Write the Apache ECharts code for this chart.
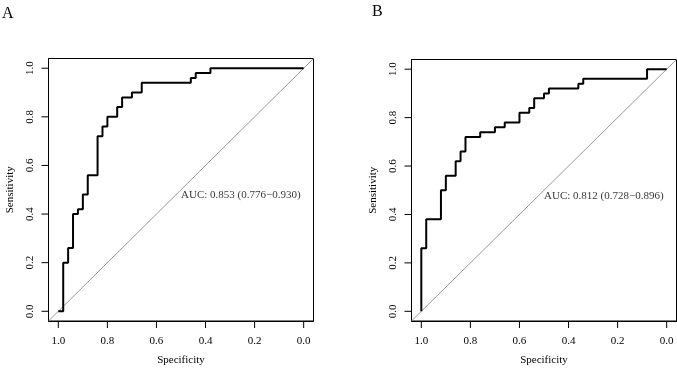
<!DOCTYPE html>
<html>
<head>
<meta charset="utf-8">
<script src="https://cdn.jsdelivr.net/npm/echarts@6/dist/echarts.min.js"></script>
<style>html,body{margin:0;padding:0;background:#fff}#c{width:677px;height:371px}</style>
</head>
<body>
<div id="c"></div>
<script>
// Panel A ROC corner points (specificity, sensitivity)
const specA = [1.00, 0.98, 0.96, 0.94, 0.92, 0.90, 0.88, 0.84, 0.82, 0.80, 0.76, 0.74, 0.70, 0.66, 0.46, 0.44, 0.38, 0.00];
const sensA = [0.00, 0.20, 0.26, 0.40, 0.42, 0.48, 0.56, 0.72, 0.76, 0.80, 0.84, 0.88, 0.90, 0.94, 0.96, 0.98, 1.00, 1.00];
// Panel B ROC corner points
const specB = [1.00, 1.00, 0.98, 0.92, 0.90, 0.86, 0.84, 0.82, 0.76, 0.70, 0.66, 0.60, 0.56, 0.54, 0.50, 0.48, 0.36, 0.34, 0.08, 0.00];
const sensB = [0.00, 0.26, 0.38, 0.50, 0.56, 0.62, 0.66, 0.72, 0.74, 0.76, 0.78, 0.82, 0.84, 0.88, 0.90, 0.92, 0.94, 0.96, 1.00, 1.00];
const aucTextA = 'AUC: 0.853 (0.776\u22120.930)';
const aucTextB = 'AUC: 0.812 (0.728\u22120.896)';
const aucPos = [0.5, 0.5];
const tickValues = [0, 0.2, 0.4, 0.6, 0.8, 1.0];
const axisMin = -0.04, axisMax = 1.04;
const panelLabels = ['A', 'B'];

const FONT = 'Liberation Serif';
const FS = 11;
const pts = (xs, ys) => xs.map((x, i) => [x, ys[i]]);

function xAx(idx) {
  return {
    type: 'value', gridIndex: idx, min: axisMin, max: axisMax, inverse: true,
    name: 'Specificity', nameLocation: 'middle', nameGap: 34,
    nameTextStyle: {fontFamily: FONT, fontSize: FS, color: '#000'},
    axisLine: {show: true, onZero: false, lineStyle: {color: '#000', width: 1}},
    axisTick: {show: false},
    axisLabel: {margin: 15, fontFamily: FONT, fontSize: FS, color: '#000',
      formatter: v => v.toFixed(1)},
    splitLine: {show: false}
  };
}
function yAx(idx) {
  return {
    type: 'value', gridIndex: idx, min: axisMin, max: axisMax,
    name: 'Sensitivity', nameLocation: 'middle', nameGap: 33,
    nameTextStyle: {fontFamily: FONT, fontSize: FS, color: '#000'},
    axisLine: {show: true, onZero: false, lineStyle: {color: '#000', width: 1}},
    axisTick: {show: false},
    axisLabel: {margin: 13, rotate: 90, fontFamily: FONT, fontSize: FS, color: '#000',
      formatter: v => v.toFixed(1)},
    splitLine: {show: false}
  };
}
function xTicks(idx) {
  return {
    type: 'custom', xAxisIndex: idx, yAxisIndex: idx, clip: false, animation: false,
    data: tickValues.map(v => [v, v]),
    renderItem: (params, api) => {
      const p = api.coord([api.value(0), axisMin]);
      return {type: 'line', shape: {x1: p[0], y1: p[1], x2: p[0], y2: p[1] + 7}, style: {stroke: '#000', lineWidth: 1}};
    }
  };
}
function yTicks(idx) {
  return {
    type: 'custom', xAxisIndex: idx, yAxisIndex: idx, clip: false, animation: false,
    data: tickValues.map(v => [v, v]),
    renderItem: (params, api) => {
      const p = api.coord([axisMax, api.value(1)]);
      return {type: 'line', shape: {x1: p[0], y1: p[1], x2: p[0] - 7, y2: p[1]}, style: {stroke: '#000', lineWidth: 1}};
    }
  };
}
function series(idx, xs, ys, txt) {
  return [
    {type: 'line', xAxisIndex: idx, yAxisIndex: idx, data: [[axisMax, axisMin], [axisMin, axisMax]],
      symbol: 'none', lineStyle: {color: '#999', width: 1}, silent: true, animation: false, clip: true},
    {type: 'line', xAxisIndex: idx, yAxisIndex: idx, data: pts(xs, ys), step: 'end',
      symbol: 'none', lineStyle: {color: '#000', width: 2}, animation: false},
    {type: 'scatter', xAxisIndex: idx, yAxisIndex: idx, data: [aucPos], symbolSize: 0, animation: false,
      label: {show: true, position: [0, 0], align: 'left', verticalAlign: 'top', formatter: txt,
        fontFamily: FONT, fontSize: FS, color: '#000'}},
    xTicks(idx),
    yTicks(idx)
  ];
}

const chart = echarts.init(document.getElementById('c'), null, {renderer: 'canvas'});
chart.setOption({
  backgroundColor: '#fff',
  animation: false,
  title: [
    {text: panelLabels[0], left: 2, top: 6, padding: 0, textStyle: {fontFamily: FONT, fontSize: 16, fontWeight: 'normal', color: '#000'}},
    {text: panelLabels[1], left: 372, top: 4, padding: 0, textStyle: {fontFamily: FONT, fontSize: 16, fontWeight: 'normal', color: '#000'}}
  ],
  grid: [
    {left: 48.5, top: 58.5, width: 265, height: 264.5, show: true, borderColor: '#000', borderWidth: 1, backgroundColor: 'transparent'},
    {left: 411.5, top: 59.5, width: 265, height: 264, show: true, borderColor: '#000', borderWidth: 1, backgroundColor: 'transparent'}
  ],
  xAxis: [xAx(0), xAx(1)],
  yAxis: [yAx(0), yAx(1)],
  series: [...series(0, specA, sensA, aucTextA), ...series(1, specB, sensB, aucTextB)]
});
</script>
</body>
</html>
